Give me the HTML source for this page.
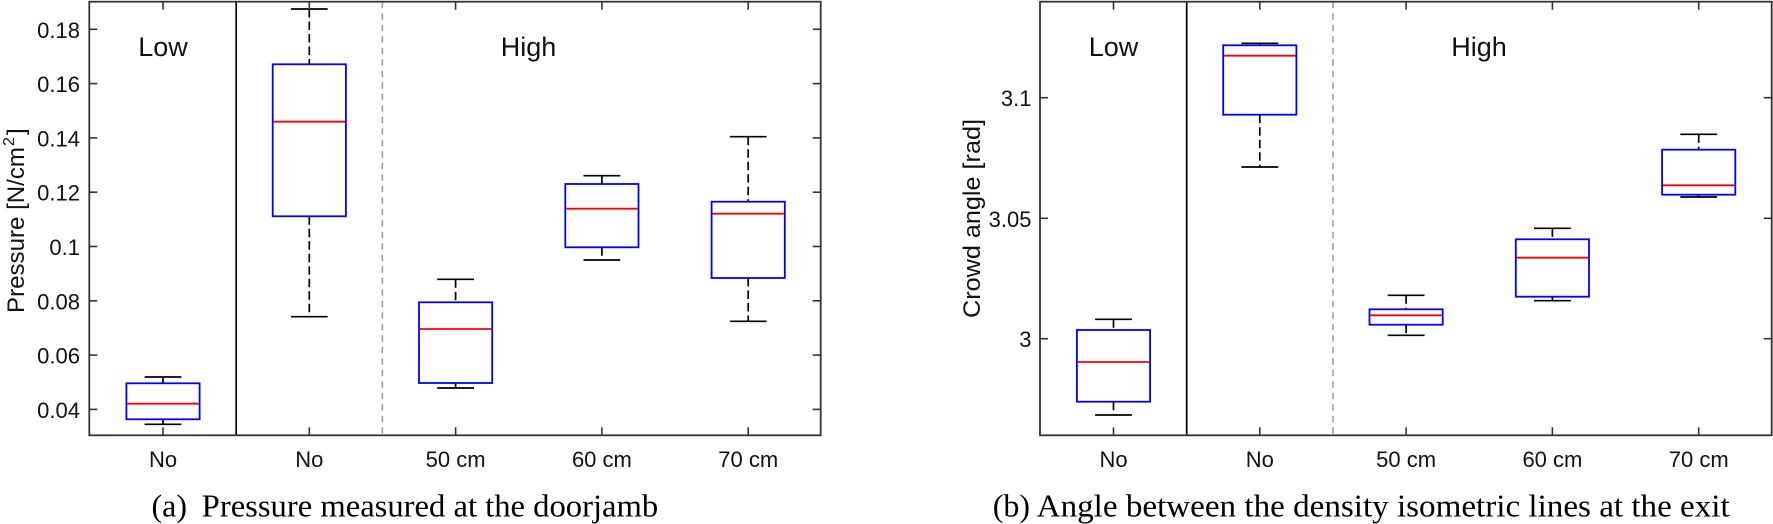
<!DOCTYPE html>
<html>
<head>
<meta charset="utf-8">
<style>
html,body{margin:0;padding:0;background:#fff;}
svg{display:block;}
.t{font-family:"Liberation Sans",Arial,sans-serif;fill:#111;}
.c{font-family:"Liberation Serif","Times New Roman",serif;fill:#000;}
</style>
</head>
<body>
<svg width="1773" height="524" viewBox="0 0 1773 524" xmlns="http://www.w3.org/2000/svg">
<rect x="0" y="0" width="1773" height="524" fill="#fff"/>

<!-- ================= LEFT PANEL ================= -->
<g fill="none" stroke-linecap="butt">
  <!-- separators -->
  <line x1="236.2" y1="1.7" x2="236.2" y2="435.3" stroke="#000" stroke-width="1.7"/>
  <line x1="382.4" y1="1.7" x2="382.4" y2="435.3" stroke="#9a9a9a" stroke-width="1.5" stroke-dasharray="6.5,5"/>

  <!-- whiskers dashed -->
  <g stroke="#000" stroke-width="1.7" stroke-dasharray="8.5,4">
    <line x1="163" y1="377" x2="163" y2="383.3"/><line x1="163" y1="419.3" x2="163" y2="424.3"/>
    <line x1="309.3" y1="9" x2="309.3" y2="64.3"/><line x1="309.3" y1="216.3" x2="309.3" y2="316.7"/>
    <line x1="455.6" y1="279.3" x2="455.6" y2="302.3"/><line x1="455.6" y1="383" x2="455.6" y2="388"/>
    <line x1="601.9" y1="175.7" x2="601.9" y2="184"/><line x1="601.9" y1="247.3" x2="601.9" y2="260"/>
    <line x1="748.2" y1="136.7" x2="748.2" y2="201.7"/><line x1="748.2" y1="278" x2="748.2" y2="321.3"/>
  </g>
  <!-- caps -->
  <g stroke="#000" stroke-width="1.7">
    <line x1="144.6" y1="377" x2="181.4" y2="377"/><line x1="144.6" y1="424.3" x2="181.4" y2="424.3"/>
    <line x1="290.9" y1="9" x2="327.7" y2="9"/><line x1="290.9" y1="316.7" x2="327.7" y2="316.7"/>
    <line x1="437.2" y1="279.3" x2="474" y2="279.3"/><line x1="437.2" y1="388" x2="474" y2="388"/>
    <line x1="583.5" y1="175.7" x2="620.3" y2="175.7"/><line x1="583.5" y1="260" x2="620.3" y2="260"/>
    <line x1="729.8" y1="136.7" x2="766.6" y2="136.7"/><line x1="729.8" y1="321.3" x2="766.6" y2="321.3"/>
  </g>
  <!-- boxes -->
  <g stroke="#0000ff" stroke-width="1.8">
    <rect x="126.4" y="383.3" width="73.2" height="36"/>
    <rect x="272.7" y="64.3" width="73.2" height="152"/>
    <rect x="419" y="302.3" width="73.2" height="80.7"/>
    <rect x="565.3" y="184" width="73.2" height="63.3"/>
    <rect x="711.6" y="201.7" width="73.2" height="76.3"/>
  </g>
  <!-- medians -->
  <g stroke="#ff0000" stroke-width="1.8">
    <line x1="127.3" y1="403.7" x2="198.7" y2="403.7"/>
    <line x1="273.6" y1="121.7" x2="345" y2="121.7"/>
    <line x1="419.9" y1="329" x2="491.3" y2="329"/>
    <line x1="566.2" y1="208.7" x2="637.6" y2="208.7"/>
    <line x1="712.5" y1="213.7" x2="783.9" y2="213.7"/>
  </g>

  <!-- axes box -->
  <rect x="89.3" y="1.7" width="731.4" height="433.6" stroke="#333" stroke-width="1.8"/>
  <!-- ticks -->
  <g stroke="#333" stroke-width="1.6">
    <!-- y ticks left & right -->
    <line x1="89.3" y1="29.3" x2="97.3" y2="29.3"/><line x1="820.7" y1="29.3" x2="812.7" y2="29.3"/>
    <line x1="89.3" y1="83.6" x2="97.3" y2="83.6"/><line x1="820.7" y1="83.6" x2="812.7" y2="83.6"/>
    <line x1="89.3" y1="137.9" x2="97.3" y2="137.9"/><line x1="820.7" y1="137.9" x2="812.7" y2="137.9"/>
    <line x1="89.3" y1="192.2" x2="97.3" y2="192.2"/><line x1="820.7" y1="192.2" x2="812.7" y2="192.2"/>
    <line x1="89.3" y1="246.5" x2="97.3" y2="246.5"/><line x1="820.7" y1="246.5" x2="812.7" y2="246.5"/>
    <line x1="89.3" y1="300.8" x2="97.3" y2="300.8"/><line x1="820.7" y1="300.8" x2="812.7" y2="300.8"/>
    <line x1="89.3" y1="355.1" x2="97.3" y2="355.1"/><line x1="820.7" y1="355.1" x2="812.7" y2="355.1"/>
    <line x1="89.3" y1="409.4" x2="97.3" y2="409.4"/><line x1="820.7" y1="409.4" x2="812.7" y2="409.4"/>
    <!-- x ticks top & bottom -->
    <line x1="163" y1="1.7" x2="163" y2="9.7"/><line x1="163" y1="435.3" x2="163" y2="427.3"/>
    <line x1="309.3" y1="1.7" x2="309.3" y2="9.7"/><line x1="309.3" y1="435.3" x2="309.3" y2="427.3"/>
    <line x1="455.6" y1="1.7" x2="455.6" y2="9.7"/><line x1="455.6" y1="435.3" x2="455.6" y2="427.3"/>
    <line x1="601.9" y1="1.7" x2="601.9" y2="9.7"/><line x1="601.9" y1="435.3" x2="601.9" y2="427.3"/>
    <line x1="748.2" y1="1.7" x2="748.2" y2="9.7"/><line x1="748.2" y1="435.3" x2="748.2" y2="427.3"/>
  </g>
</g>

<g class="t" font-size="22" text-anchor="end">
  <text x="80" y="37.8">0.18</text>
  <text x="80" y="92.1">0.16</text>
  <text x="80" y="146.4">0.14</text>
  <text x="80" y="200.7">0.12</text>
  <text x="80" y="255">0.1</text>
  <text x="80" y="309.3">0.08</text>
  <text x="80" y="363.6">0.06</text>
  <text x="80" y="417.9">0.04</text>
</g>
<g class="t" font-size="22" text-anchor="middle">
  <text x="163" y="467">No</text>
  <text x="309.3" y="467">No</text>
  <text x="455.6" y="467">50 cm</text>
  <text x="601.9" y="467">60 cm</text>
  <text x="748.2" y="467">70 cm</text>
</g>
<g class="t" font-size="27" text-anchor="middle">
  <text x="163" y="56">Low</text>
  <text x="528.5" y="56">High</text>
</g>
<g transform="translate(24,313) rotate(-90)" class="t">
  <text x="0" y="0" font-size="24" textLength="166" lengthAdjust="spacingAndGlyphs">Pressure [N/cm</text>
  <text x="167" y="-10" font-size="16">2</text>
  <text x="178" y="0" font-size="24">]</text>
</g>

<!-- ================= RIGHT PANEL ================= -->
<g fill="none" stroke-linecap="butt">
  <line x1="1186.7" y1="1.7" x2="1186.7" y2="435.3" stroke="#000" stroke-width="1.7"/>
  <line x1="1333" y1="1.7" x2="1333" y2="435.3" stroke="#9a9a9a" stroke-width="1.5" stroke-dasharray="6.5,5"/>

  <g stroke="#000" stroke-width="1.7" stroke-dasharray="8.5,4">
    <line x1="1113.5" y1="319.3" x2="1113.5" y2="330"/><line x1="1113.5" y1="401.7" x2="1113.5" y2="415"/>
    <line x1="1259.8" y1="43.3" x2="1259.8" y2="45.3"/><line x1="1259.8" y1="114.7" x2="1259.8" y2="167"/>
    <line x1="1406.1" y1="295.3" x2="1406.1" y2="309.3"/><line x1="1406.1" y1="324.7" x2="1406.1" y2="335.3"/>
    <line x1="1552.4" y1="228.3" x2="1552.4" y2="239.3"/><line x1="1552.4" y1="296.7" x2="1552.4" y2="300.7"/>
    <line x1="1698.7" y1="134.3" x2="1698.7" y2="149.7"/><line x1="1698.7" y1="194.7" x2="1698.7" y2="197"/>
  </g>
  <g stroke="#000" stroke-width="1.7">
    <line x1="1095.1" y1="319.3" x2="1131.9" y2="319.3"/><line x1="1095.1" y1="415" x2="1131.9" y2="415"/>
    <line x1="1241.4" y1="43.3" x2="1278.2" y2="43.3"/><line x1="1241.4" y1="167" x2="1278.2" y2="167"/>
    <line x1="1387.7" y1="295.3" x2="1424.5" y2="295.3"/><line x1="1387.7" y1="335.3" x2="1424.5" y2="335.3"/>
    <line x1="1534" y1="228.3" x2="1570.8" y2="228.3"/><line x1="1534" y1="300.7" x2="1570.8" y2="300.7"/>
    <line x1="1680.3" y1="134.3" x2="1717.1" y2="134.3"/><line x1="1680.3" y1="197" x2="1717.1" y2="197"/>
  </g>
  <g stroke="#0000ff" stroke-width="1.8">
    <rect x="1076.9" y="330" width="73.2" height="71.7"/>
    <rect x="1223.2" y="45.3" width="73.2" height="69.4"/>
    <rect x="1369.5" y="309.3" width="73.2" height="15.4"/>
    <rect x="1515.8" y="239.3" width="73.2" height="57.4"/>
    <rect x="1662.1" y="149.7" width="73.2" height="45"/>
  </g>
  <g stroke="#ff0000" stroke-width="1.8">
    <line x1="1077.8" y1="362" x2="1149.2" y2="362"/>
    <line x1="1224.1" y1="55.7" x2="1295.5" y2="55.7"/>
    <line x1="1370.4" y1="315.3" x2="1441.8" y2="315.3"/>
    <line x1="1516.7" y1="257.7" x2="1588.1" y2="257.7"/>
    <line x1="1663" y1="185.3" x2="1734.4" y2="185.3"/>
  </g>

  <rect x="1040" y="1.7" width="731.7" height="433.6" stroke="#333" stroke-width="1.8"/>
  <g stroke="#333" stroke-width="1.6">
    <line x1="1040" y1="97.7" x2="1048" y2="97.7"/><line x1="1771.7" y1="97.7" x2="1763.7" y2="97.7"/>
    <line x1="1040" y1="218.3" x2="1048" y2="218.3"/><line x1="1771.7" y1="218.3" x2="1763.7" y2="218.3"/>
    <line x1="1040" y1="338.7" x2="1048" y2="338.7"/><line x1="1771.7" y1="338.7" x2="1763.7" y2="338.7"/>
    <line x1="1113.5" y1="1.7" x2="1113.5" y2="9.7"/><line x1="1113.5" y1="435.3" x2="1113.5" y2="427.3"/>
    <line x1="1259.8" y1="1.7" x2="1259.8" y2="9.7"/><line x1="1259.8" y1="435.3" x2="1259.8" y2="427.3"/>
    <line x1="1406.1" y1="1.7" x2="1406.1" y2="9.7"/><line x1="1406.1" y1="435.3" x2="1406.1" y2="427.3"/>
    <line x1="1552.4" y1="1.7" x2="1552.4" y2="9.7"/><line x1="1552.4" y1="435.3" x2="1552.4" y2="427.3"/>
    <line x1="1698.7" y1="1.7" x2="1698.7" y2="9.7"/><line x1="1698.7" y1="435.3" x2="1698.7" y2="427.3"/>
  </g>
</g>

<g class="t" font-size="22" text-anchor="end">
  <text x="1031.5" y="106.2">3.1</text>
  <text x="1031.5" y="226.8">3.05</text>
  <text x="1031.5" y="347.2">3</text>
</g>
<g class="t" font-size="22" text-anchor="middle">
  <text x="1113.5" y="467">No</text>
  <text x="1259.8" y="467">No</text>
  <text x="1406.1" y="467">50 cm</text>
  <text x="1552.4" y="467">60 cm</text>
  <text x="1698.7" y="467">70 cm</text>
</g>
<g class="t" font-size="27" text-anchor="middle">
  <text x="1113.5" y="56">Low</text>
  <text x="1479" y="56">High</text>
</g>
<g transform="translate(980,318) rotate(-90)" class="t">
  <text x="0" y="0" font-size="24" textLength="199" lengthAdjust="spacingAndGlyphs">Crowd angle [rad]</text>
</g>

<!-- ================= CAPTIONS ================= -->
<g class="c" font-size="32">
  <text x="151.5" y="516.5">(a)</text>
  <text x="201.7" y="516.5" textLength="456.5" lengthAdjust="spacingAndGlyphs">Pressure measured at the doorjamb</text>
  <text x="992.7" y="516.5">(b)</text>
  <text x="1036.7" y="516.5" textLength="693" lengthAdjust="spacingAndGlyphs">Angle between the density isometric lines at the exit</text>
</g>
</svg>
</body>
</html>
